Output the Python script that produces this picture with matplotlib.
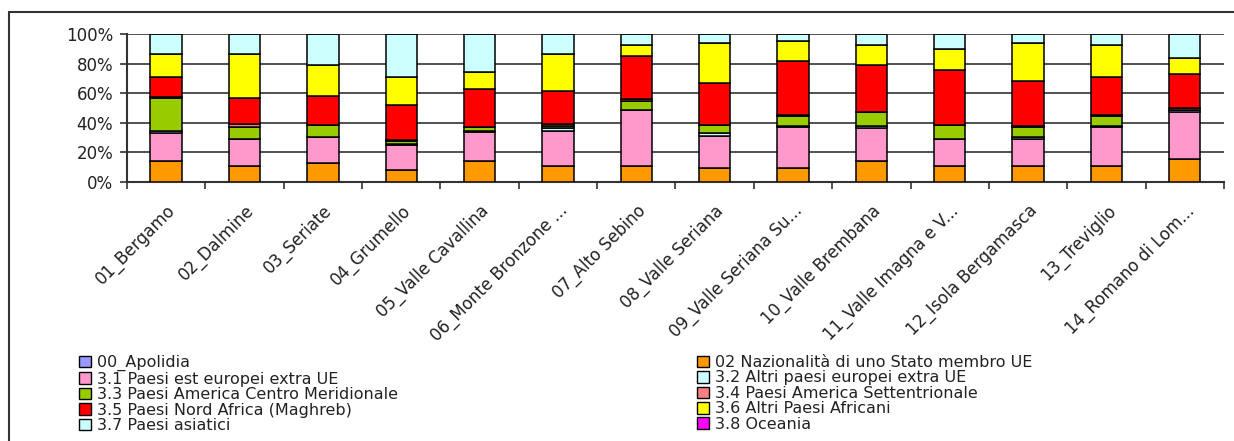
import numpy as np
import matplotlib
matplotlib.use("Agg")
import matplotlib.pyplot as plt
from matplotlib.patches import Patch, Rectangle
from matplotlib.ticker import FixedLocator, PercentFormatter

ambiti = ["01_Bergamo", "02_Dalmine", "03_Seriate", "04_Grumello",
          "05_Valle Cavallina", "06_Monte Bronzone ...", "07_Alto Sebino",
          "08_Valle Seriana", "09_Valle Seriana Su...", "10_Valle Brembana",
          "11_Valle Imagna e V...", "12_Isola Bergamasca", "13_Treviglio",
          "14_Romano di Lom..."]

# quote percentuali per area di cittadinanza
apolidia     = [0.05] * 14
ue           = [14.3, 10.7, 13.0, 8.0, 14.3, 10.7, 10.7, 9.5, 9.5, 13.9, 10.7, 10.7, 10.7, 15.5]
est_europa   = [18.7, 18.2, 17.2, 17.2, 19.3, 24.1, 37.7, 21.6, 27.8, 22.5, 18.2, 18.2, 26.8, 31.5]
altri_europa = [1.4, 0.3, 0.3, 0.3, 1.2, 1.4, 0.3, 1.9, 0.3, 1.3, 0.3, 1.8, 0.3, 1.6]
america_cm   = [22.6, 8.3, 7.9, 2.0, 2.5, 1.8, 5.8, 5.4, 7.2, 9.3, 9.4, 6.8, 7.0, 0.4]
america_nord = [0.2, 1.4, 0.2, 0.9, 0.2, 0.9, 1.6, 0.2, 0.2, 0.2, 0.2, 0.2, 0.2, 0.8]
maghreb      = [13.5, 18.1, 19.8, 23.6, 25.7, 22.9, 29.1, 28.4, 36.8, 32.1, 36.9, 30.5, 25.7, 23.4]
altri_africa = [15.9, 29.6, 20.9, 18.7, 10.9, 24.8, 7.5, 26.9, 13.2, 13.2, 14.3, 25.7, 22.0, 10.9]
asia         = [13.4, 13.4, 20.7, 29.3, 25.9, 13.4, 7.3, 6.1, 5.0, 7.5, 10.0, 6.1, 7.3, 15.9]
oceania      = [0.05] * 14

serie = [
    ("00_Apolidia", apolidia, "#9999ff"),
    ("02 Nazionalità di uno Stato membro UE", ue, "#ff9900"),
    ("3.1 Paesi est europei extra UE", est_europa, "#ff99cc"),
    ("3.2 Altri paesi europei extra UE", altri_europa, "#ccffff"),
    ("3.3 Paesi America Centro Meridionale", america_cm, "#99cc00"),
    ("3.4 Paesi America Settentrionale", america_nord, "#ff8080"),
    ("3.5 Paesi Nord Africa (Maghreb)", maghreb, "#ff0000"),
    ("3.6 Altri Paesi Africani", altri_africa, "#ffff00"),
    ("3.7 Paesi asiatici", asia, "#ccffff"),
    ("3.8 Oceania", oceania, "#ff00ff"),
]

plt.rcParams["font.family"] = ["DejaVu Sans"]
testo = "#222222"

fig = plt.figure(figsize=(12.34, 4.41), dpi=100)
ax = fig.add_axes([0.1029, 0.587, 0.889, 0.336])

x = np.arange(len(ambiti))
tot = np.sum([s[1] for s in serie], axis=0)
base = np.zeros(len(ambiti))
for nome, val, col in serie:
    quota = np.array(val) / tot * 100
    ax.bar(x, quota, width=0.4, bottom=base, color=col,
           edgecolor="black", linewidth=1.1, zorder=3)
    base += quota

ax.set_xlim(-0.5, len(ambiti) - 0.5)
ax.set_ylim(0, 100)
ax.yaxis.set_major_locator(FixedLocator([0, 20, 40, 60, 80, 100]))
ax.yaxis.set_major_formatter(PercentFormatter(decimals=0))
ax.grid(axis="y", color="#333333", linewidth=1.2, zorder=0)
ax.set_axisbelow(True)

ax.set_xticks(x)
ax.set_xticklabels(ambiti, rotation=45, ha="right", rotation_mode="anchor",
                   fontsize=12, color=testo)
ax.tick_params(axis="x", length=0, pad=14)
ax.xaxis.set_minor_locator(FixedLocator(np.arange(-0.5, len(ambiti), 1)))
ax.tick_params(axis="x", which="minor", length=5, width=1.2, color="#333333")
ax.tick_params(axis="y", length=5, width=1.2, color="#333333",
               labelsize=12, labelcolor=testo, pad=5)

for lato in ("top", "right"):
    ax.spines[lato].set_visible(False)
for lato in ("left", "bottom"):
    ax.spines[lato].set_color("#333333")
    ax.spines[lato].set_linewidth(1.5)

# legenda su due colonne, riempita per righe
maniglie = [Patch(facecolor=c, edgecolor="black", linewidth=1.0) for _, _, c in serie]
etichette = [n for n, _, _ in serie]
for col, x0 in ((0, 79 / 1234), (1, 697 / 1234)):
    fig.legend(maniglie[col::2], etichette[col::2], loc="upper left",
               bbox_to_anchor=(x0, 1 - 355 / 441), frameon=False,
               fontsize=11.5, handlelength=0.75, handleheight=0.75,
               handletextpad=0.4, labelspacing=0.03, borderpad=0,
               borderaxespad=0, labelcolor=testo)

# cornice esterna del grafico
fig.patches.append(Rectangle((9 / 1234, -0.2), 1.5, 1.2 - 12 / 441,
                             transform=fig.transFigure, fill=False,
                             edgecolor="#333333", linewidth=1.5))

fig.savefig("out.png", dpi=100)
